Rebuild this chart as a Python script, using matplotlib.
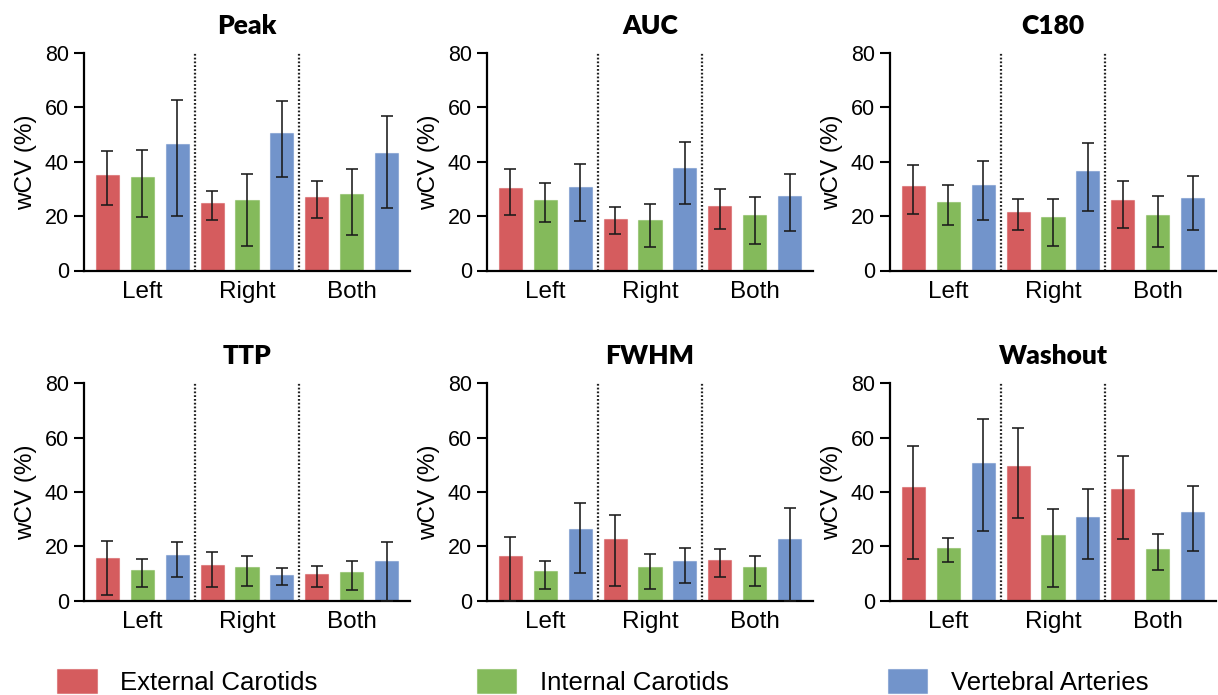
import matplotlib
matplotlib.use("Agg")
import matplotlib.pyplot as plt
from matplotlib.patches import Patch
import numpy as np

panels = ["Peak", "AUC", "C180", "TTP", "FWHM", "Washout"]
groups = ["Left", "Right", "Both"]
series = ["External Carotids", "Internal Carotids", "Vertebral Arteries"]
colors = ["#D55C5E", "#84BA5B", "#7294CB"]

# values ordered: Left(Ext, Int, Vert), Right(Ext, Int, Vert), Both(Ext, Int, Vert)
means = {
    "Peak":    [35.3, 34.3, 46.4, 24.7, 25.8, 50.4, 26.9, 28.0, 43.3],
    "AUC":     [30.2, 25.9, 30.6, 19.0, 18.4, 37.6, 23.7, 20.3, 27.3],
    "C180":    [31.0, 25.2, 31.3, 21.5, 19.5, 36.5, 25.8, 20.3, 26.5],
    "TTP":     [15.6, 11.5, 16.7, 13.0, 12.3, 9.4, 9.8, 10.6, 14.5],
    "FWHM":    [16.3, 10.8, 26.4, 22.6, 12.4, 14.7, 15.0, 12.3, 22.6],
    "Washout": [41.7, 19.3, 50.6, 49.7, 24.2, 30.8, 41.0, 19.0, 32.5],
}
upper = {
    "Peak":    [43.9, 44.5, 62.7, 29.4, 35.4, 62.4, 33.1, 37.5, 56.7],
    "AUC":     [37.5, 32.1, 39.3, 23.3, 24.5, 47.3, 29.9, 26.9, 35.6],
    "C180":    [38.7, 31.3, 40.4, 26.4, 26.2, 46.8, 32.8, 27.5, 34.7],
    "TTP":     [22.0, 15.3, 21.8, 18.0, 16.3, 11.9, 12.9, 14.6, 21.7],
    "FWHM":    [23.6, 14.5, 36.1, 31.5, 17.3, 19.5, 19.1, 16.3, 34.2],
    "Washout": [57.1, 23.2, 67.0, 63.4, 33.9, 41.1, 53.3, 24.5, 42.2],
}
lower = {
    "Peak":    [24.0, 19.5, 19.9, 18.4, 9.0, 34.5, 19.3, 12.9, 22.9],
    "AUC":     [20.4, 17.7, 18.1, 13.4, 8.8, 24.6, 15.4, 9.6, 14.6],
    "C180":    [20.9, 16.6, 18.4, 15.0, 9.1, 21.8, 15.7, 8.5, 14.9],
    "TTP":     [2.1, 5.0, 8.7, 5.0, 5.6, 5.8, 5.0, 4.0, 0.0],
    "FWHM":    [0.0, 4.5, 10.2, 5.3, 4.2, 6.7, 8.8, 5.6, 0.0],
    "Washout": [15.3, 14.2, 25.5, 30.4, 5.2, 15.3, 22.9, 11.3, 18.5],
}
yticks = [0, 20, 40, 60, 80]
ylabel = "wCV (%)"

W, H = 1218, 695
fig = plt.figure(figsize=(W / 100, H / 100), dpi=100)

lefts = [84, 487, 890]
tops = [53, 383.3]
ax_w, ax_h = 326, 217.5

tick_font = "Liberation Sans"
title_font = "Lato"

for i, name in enumerate(panels):
    r, c = divmod(i, 3)
    ax = fig.add_axes([lefts[c] / W, 1 - (tops[r] + ax_h) / H, ax_w / W, ax_h / H])
    m = np.array(means[name])
    up = np.array(upper[name])
    lo = np.array(lower[name])
    x = np.arange(len(m))
    cols = [colors[k % 3] for k in range(len(m))]
    ax.bar(x, m, width=0.66, color=cols, edgecolor=[matplotlib.colors.to_rgba(cc, 0.55) for cc in cols],
           linewidth=0.8, zorder=2)
    ax.errorbar(x, m, yerr=[m - lo, up - m], fmt="none", ecolor="#1a1a1a", elinewidth=1.15,
                capsize=4.3, capthick=1.15, zorder=3)
    for xv in (2.5, 5.5):
        ax.plot([xv, xv], [0, 80], color="#222222", linewidth=1.6, linestyle=(0, (0.8, 0.9)), zorder=1,
                clip_on=False)
    ax.set_xlim(-0.67, 8.67)
    ax.set_ylim(0, 80)
    ax.set_yticks(yticks)
    ax.set_xticks([1, 4, 7])
    ax.set_xticklabels(groups, fontsize=17.5, family=tick_font)
    ax.tick_params(axis="x", length=0, pad=7.5)
    ax.tick_params(axis="y", length=7.2, width=1.5, pad=3.6, labelsize=15.5, direction="out")
    for lab in ax.get_yticklabels():
        lab.set_family(tick_font)
    for s in ("top", "right"):
        ax.spines[s].set_visible(False)
    for s in ("left", "bottom"):
        ax.spines[s].set_linewidth(1.6)
    ax.set_ylabel(ylabel, fontsize=17.5, family=tick_font, labelpad=6)
    ax.set_title(name, fontsize=19, fontweight="heavy", family=title_font, pad=14)

handles = [Patch(facecolor=colors[k], edgecolor=matplotlib.colors.to_rgba(colors[k], 0.55), linewidth=0.8)
           for k in range(3)]
fig.legend(handles, series, loc="center left", bbox_to_anchor=(57 / W, 1 - 682 / H), ncol=3,
           frameon=False, borderpad=0, borderaxespad=0, handlelength=1.55, handleheight=1.05,
           handletextpad=0.9, columnspacing=6.2, prop={"family": tick_font, "size": 18.5})

fig.savefig("out.png", dpi=100)
